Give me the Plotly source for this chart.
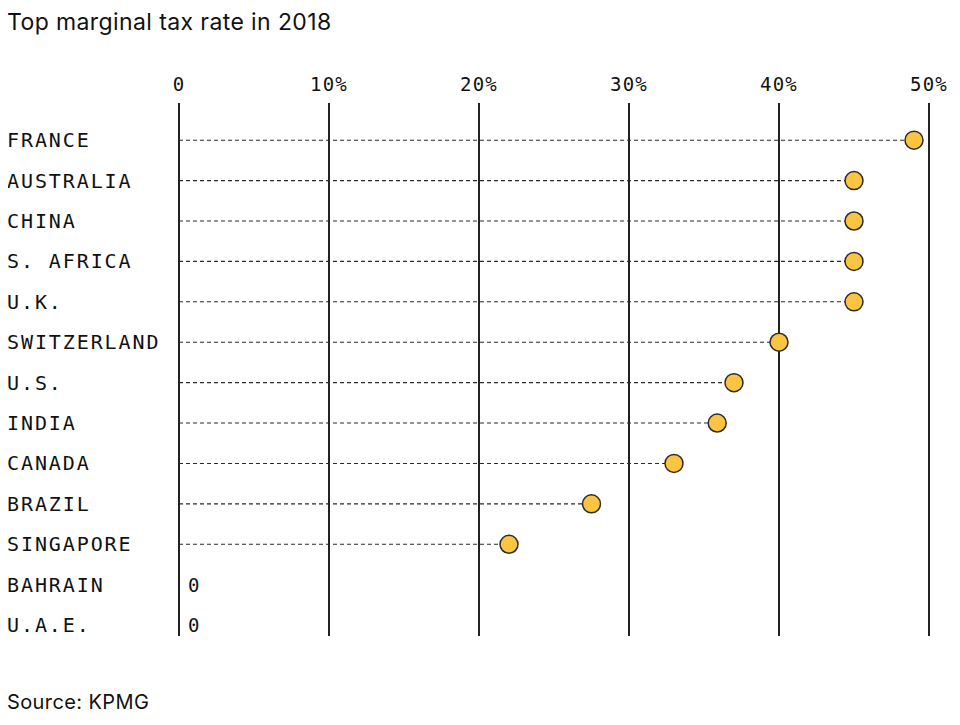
import plotly.graph_objects as go

countries = ["FRANCE", "AUSTRALIA", "CHINA", "S. AFRICA", "U.K.", "SWITZERLAND",
             "U.S.", "INDIA", "CANADA", "BRAZIL", "SINGAPORE", "BAHRAIN", "U.A.E."]
rates = [49, 45, 45, 45, 45, 40, 37, 35.88, 33, 27.5, 22, 0, 0]
tick_vals = [0, 10, 20, 30, 40, 50]
tick_text = ["0", "10%", "20%", "30%", "40%", "50%"]

MONO = "DejaVu Sans Mono, Liberation Mono, monospace"
SANS = "Inter, Liberation Sans, Arial, sans-serif"
INK = "#222222"


def spaced(s, px):
    return '<span style="letter-spacing:%spx">%s</span>' % (px, s)


rows = list(range(len(countries)))

fig = go.Figure()

lx, ly = [], []
for r, v in zip(rows, rates):
    if v > 0:
        lx += [0, v, None]
        ly += [r, r, None]
fig.add_trace(go.Scatter(x=lx, y=ly, mode="lines",
                         line=dict(color="#2a2a2a", width=1.1, dash="4px,3px"),
                         hoverinfo="skip", showlegend=False))

mx = [v for v in rates if v > 0]
my = [r for r, v in zip(rows, rates) if v > 0]
fig.add_trace(go.Scatter(x=mx, y=my, mode="markers",
                         marker=dict(size=18, color="#FBC441",
                                     line=dict(color="#2b2b2b", width=1.5)),
                         showlegend=False))

PL, PT, PB = 156, 95, 97
plot_w = 780
plot_h = 725 - PT - PB
left_x = -159 / plot_w

annotations = []
for r, c in zip(rows, countries):
    annotations.append(dict(text=spaced(c, 1.9), x=left_x, xref="paper", y=r, yref="y",
                            xanchor="left", yanchor="middle", showarrow=False,
                            font=dict(family=MONO, size=20, color="#111111")))
for r, v in zip(rows, rates):
    if v == 0:
        annotations.append(dict(text="0", x=0, xref="x", y=r, yref="y",
                                xanchor="left", yanchor="middle", showarrow=False,
                                xshift=7,
                                font=dict(family=MONO, size=19, color="#111111")))

annotations.append(dict(text=spaced("Top marginal tax rate in 2018", 0.4), x=left_x,
                        xref="paper", y=1 + (PT - 14) / plot_h, yref="paper",
                        yanchor="middle", xanchor="left", showarrow=False,
                        font=dict(family=SANS, size=23, color="#111111")))
annotations.append(dict(text=spaced("Source: KPMG", 0.4), x=left_x, xref="paper",
                        y=-(694 - (725 - PB)) / plot_h, yref="paper", yanchor="middle",
                        xanchor="left", showarrow=False,
                        font=dict(family=SANS, size=20, color="#111111")))

fig.update_layout(
    width=960, height=725,
    margin=dict(l=PL, r=960 - PL - plot_w, t=PT, b=PB),
    paper_bgcolor="white", plot_bgcolor="white",
    annotations=annotations,
    xaxis=dict(range=[-1, 51], side="top", tickvals=tick_vals,
               ticktext=[spaced(t, 1.3) for t in tick_text],
               showgrid=True, gridcolor=INK, gridwidth=1.5, zeroline=False,
               showline=False, ticks="outside", ticklen=3, tickcolor="rgba(0,0,0,0)",
               tickfont=dict(family=MONO, size=19, color="#111111"), fixedrange=True),
    yaxis=dict(range=[12.27, -0.92], showgrid=False, zeroline=False, showline=False,
               showticklabels=False, fixedrange=True),
)

fig.write_html("out.html")
